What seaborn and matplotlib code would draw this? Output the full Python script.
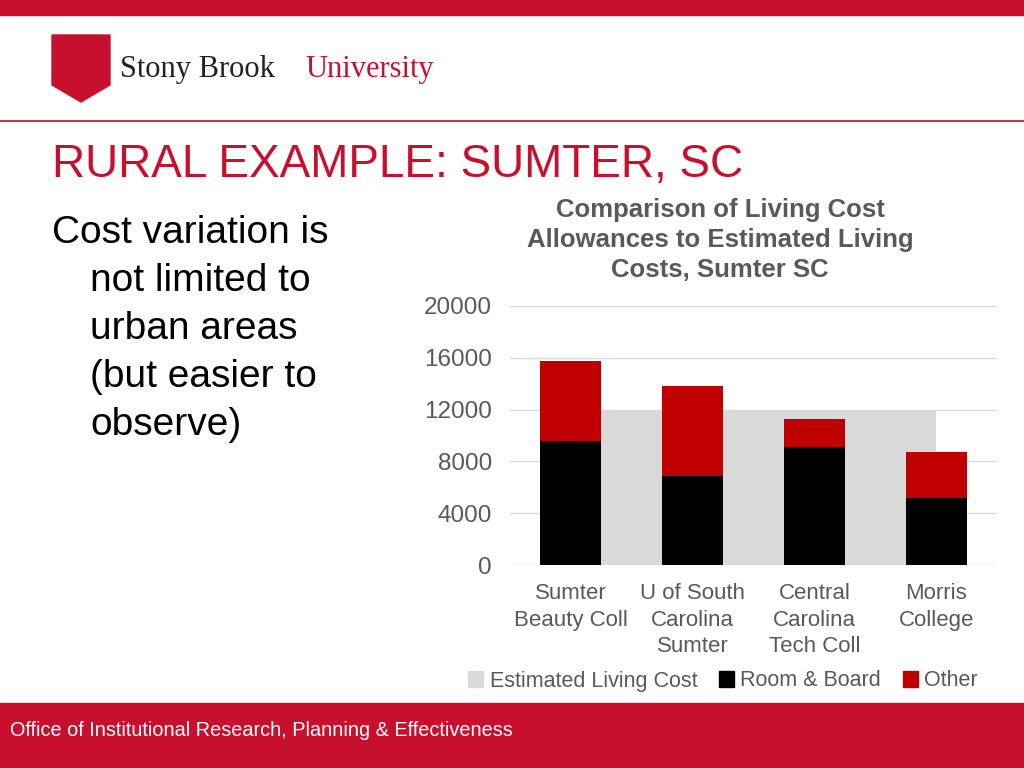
import matplotlib
matplotlib.use("Agg")
import matplotlib.pyplot as plt
import seaborn as sns
import pandas as pd
from matplotlib.patches import Rectangle, Polygon

categories = ["Sumter\nBeauty Coll", "U of South\nCarolina\nSumter", "Central\nCarolina\nTech Coll", "Morris\nCollege"]
room_board = [9600, 6850, 9150, 5150]
other = [6150, 6950, 2100, 3550]
estimated = [11900, 11900, 11900, 11900]
yticks = [0, 4000, 8000, 12000, 16000, 20000]

RED = "#C00000"
df = pd.DataFrame({"cat": categories, "rb": room_board,
                   "total": [a + b for a, b in zip(room_board, other)]})

fig = plt.figure(figsize=(10.24, 7.68), dpi=100)
fig.patches.append(Rectangle((0, 1 - 15/768), 1, 15/768, transform=fig.transFigure, color="#C8102E"))
fig.patches.append(Rectangle((0, 0), 1, 65/768, transform=fig.transFigure, color="#C8102E"))
fig.lines.append(plt.Line2D([0, 1], [1 - 121/768]*2, transform=fig.transFigure, color="#C8102E", lw=1.2))
fig.patches.append(Polygon([(52/1024, 1-35/768), (110/1024, 1-35/768), (110/1024, 1-85/768),
                            (81/1024, 1-102/768), (52/1024, 1-85/768)],
                           closed=True, transform=fig.transFigure, color="#C8102E"))
fig.text(120/1024, 1-70/768, "Stony Brook", fontsize=22, family="Liberation Serif", color="#222222", va="center")
fig.text(305/1024, 1-70/768, "University", fontsize=22, family="Liberation Serif", color="#C8102E", va="center")
fig.text(52/1024, 1-165/768, "RURAL EXAMPLE: SUMTER, SC", fontsize=33, color="#C8102E", va="center",
         family="Liberation Sans")
fig.text(52/1024, 1-233/768, "Cost variation is", fontsize=28, va="center", family="Liberation Sans")
for i, t in enumerate(["not limited to", "urban areas", "(but easier to", "observe)"]):
    fig.text(90/1024, 1-(281 + 48*i)/768, t, fontsize=28, va="center", family="Liberation Sans")
fig.text(10/1024, 1-731/768, "Office of Institutional Research, Planning & Effectiveness",
         fontsize=14.3, color="white", va="center", family="Liberation Sans")
fig.text(720/1024, 1-240/768, "Comparison of Living Cost\nAllowances to Estimated Living\nCosts, Sumter SC",
         fontsize=18.5, fontweight="bold", color="#595959", ha="center", va="center",
         family="Liberation Sans", linespacing=1.3)

ax = fig.add_axes([0.498, 1-565/768, 0.476, 259/768])
ax.fill_between(range(len(categories)), 0, estimated, color="#D9D9D9", lw=0, zorder=1)
sns.barplot(data=df, x="cat", y="total", color=RED, width=0.5, ax=ax, saturation=1, zorder=2)
sns.barplot(data=df, x="cat", y="rb", color="black", width=0.5, ax=ax, saturation=1, zorder=3)
ax.set_xlim(-0.5, 3.5)
ax.set_ylim(0, 20000)
ax.set_yticks(yticks)
ax.set_yticklabels([str(v) for v in yticks], fontsize=17.5, color="#595959", family="Liberation Sans")
ax.tick_params(axis="x", labelsize=16, labelcolor="#595959", length=0, pad=13)
for l in ax.get_xticklabels():
    l.set_family("Liberation Sans")
    l.set_linespacing(1.35)
ax.tick_params(axis="y", length=0, pad=13)
ax.set_xlabel(""); ax.set_ylabel("")
ax.grid(axis="y", color="#D9D9D9", lw=1, zorder=0)
ax.set_axisbelow(True)
for s in ax.spines.values():
    s.set_visible(False)

handles = [Rectangle((0, 0), 1, 1, color="#D9D9D9"), Rectangle((0, 0), 1, 1, color="black"),
           Rectangle((0, 0), 1, 1, color=RED)]
fig.legend(handles, ["Estimated Living Cost", "Room & Board", "Other"], loc="center",
           bbox_to_anchor=(723/1024, 1-681/768), ncol=3, frameon=False, handlelength=0.7,
           handleheight=0.7, handletextpad=0.3, columnspacing=1.0,
           prop={"size": 15.5, "family": "Liberation Sans"}, labelcolor="#595959")
fig.savefig("out.png", dpi=100)
